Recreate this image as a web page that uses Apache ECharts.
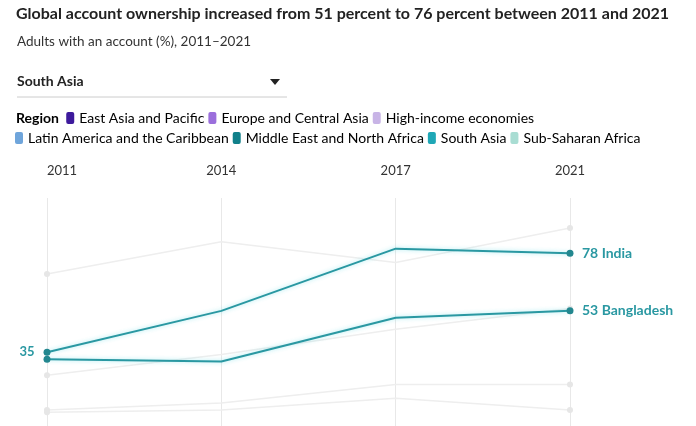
<!DOCTYPE html>
<html>
<head>
<meta charset="utf-8">
<script src="https://cdn.jsdelivr.net/npm/echarts@6/dist/echarts.min.js"></script>
<style>
  html, body { margin: 0; padding: 0; background: #fff; }
  #main { width: 696px; height: 426px; }
</style>
</head>
<body>
<div id="main"></div>
<script>
// 年份（分类轴）
var years = ['2011', '2014', '2017', '2021'];

// 当前选中地区的重点国家
var india = [35, 53, 80, 78];
var bangladesh = [32, 31, 50, 53];

// 同地区的其他国家（灰色背景线）
var sriLanka = [69, 83, 74, 89];
var nepal = [25, 34, 45, 54];
var pakistan = [10, 13, 21, 21];
var afghanistan = [9, 10, 15, 10];

// 图例：地区名称和颜色
var regionNames = ['East Asia and Pacific', 'Europe and Central Asia', 'High-income economies',
    'Latin America and the Caribbean', 'Middle East and North Africa', 'South Asia', 'Sub-Saharan Africa'];
var regionColors = ['#3d1a9c', '#9b6fdc', '#c8b4e6', '#6fa5db', '#11808a', '#1fa7b6', '#a9ddd3'];

var FONT = 'Lato';
var TEAL = '#2a98a2';
var last = years.length - 1;

var chart = echarts.init(document.getElementById('main'));

// 图例一行的富文本
function legendLine(from, to, prefix) {
    var str = prefix || '';
    var rich = {
        b: { fontFamily: FONT, fontWeight: 'bold', fontSize: 14, color: '#222', padding: [0, 4, 0, 0] },
        t: { fontFamily: FONT, fontSize: 14, color: '#333', padding: [0, 4, 0, 5] }
    };
    for (var i = from; i < to; i++) {
        rich['s' + i] = { backgroundColor: regionColors[i], width: 8, height: 12, borderRadius: 2 };
        str += '{s' + i + '|}{t|' + regionNames[i] + '}';
    }
    return { text: str, rich: rich };
}

function bgSeries(name, data) {
    return {
        name: name,
        type: 'line',
        data: data,
        z: 1,
        silent: true,
        symbol: 'circle',
        symbolSize: function (v, p) { return (p.dataIndex === 0 || p.dataIndex === last) ? 6 : 0; },
        itemStyle: { color: '#e6e6e6' },
        lineStyle: { color: '#eeeeee', width: 1.5 }
    };
}

function mainSeries(name, data, showStart) {
    return {
        name: name,
        type: 'line',
        z: 5,
        data: data.map(function (v, i) {
            return {
                value: v,
                label: {
                    show: showStart && i === 0,
                    position: 'left',
                    distance: 9,
                    color: TEAL,
                    fontFamily: FONT,
                    fontWeight: 'bold',
                    fontSize: 13
                }
            };
        }),
        symbol: 'circle',
        symbolSize: function (v, p) { return (p.dataIndex === 0 || p.dataIndex === last) ? 7 : 0; },
        itemStyle: { color: '#23878f' },
        lineStyle: {
            color: TEAL, width: 2,
            shadowColor: 'rgba(60,210,225,0.45)', shadowBlur: 4
        },
        endLabel: {
            show: true,
            distance: 12,
            color: TEAL,
            fontFamily: FONT,
            fontWeight: 'bold',
            fontSize: 14,
            formatter: function (p) { return p.value + ' ' + name; }
        }
    };
}

var l1 = legendLine(0, 3, '{b|Region} ');
var l2 = legendLine(3, 7, '');

var option = {
    animation: false,
    grid: { left: 47, right: 126, top: 198, bottom: 0 },
    xAxis: {
        type: 'category',
        position: 'top',
        boundaryGap: false,
        data: years,
        axisLine: { show: false },
        axisTick: { show: false },
        axisLabel: {
            color: '#333', fontFamily: FONT, fontSize: 13, margin: 21,
            alignMinLabel: 'left'
        },
        splitLine: { show: true, lineStyle: { color: '#e8e8e8', width: 1 } }
    },
    yAxis: {
        type: 'value',
        min: 3,
        max: 102,
        show: false,
        splitLine: { show: false }
    },
    graphic: [
        {
            type: 'text', left: 16, top: 6,
            style: { text: 'Global account ownership increased from 51 percent to 76 percent between 2011 and 2021',
                fontFamily: FONT, fontWeight: 'bold', fontSize: 16, fill: '#222' }
        },
        {
            type: 'text', left: 17, top: 35,
            style: { text: 'Adults with an account (%), 2011–2021', fontFamily: FONT, fontSize: 13.5, fill: '#333' }
        },
        {
            type: 'text', left: 17, top: 74,
            style: { text: 'South Asia', fontFamily: FONT, fontWeight: 'bold', fontSize: 14, fill: '#222' }
        },
        {
            type: 'polygon',
            shape: { points: [[270, 79], [280, 79], [275, 85]] },
            style: { fill: '#222' }
        },
        {
            type: 'line',
            shape: { x1: 17, y1: 97, x2: 287, y2: 97 },
            style: { stroke: '#cccccc', lineWidth: 1 }
        },
        {
            type: 'text', left: 16, top: 111,
            style: { text: l1.text, rich: l1.rich }
        },
        {
            type: 'text', left: 15, top: 131,
            style: { text: l2.text, rich: l2.rich }
        }
    ],
    series: [
        bgSeries('Sri Lanka', sriLanka),
        bgSeries('Nepal', nepal),
        bgSeries('Pakistan', pakistan),
        bgSeries('Afghanistan', afghanistan),
        mainSeries('Bangladesh', bangladesh, false),
        mainSeries('India', india, true)
    ]
};

chart.setOption(option);
</script>
</body>
</html>
